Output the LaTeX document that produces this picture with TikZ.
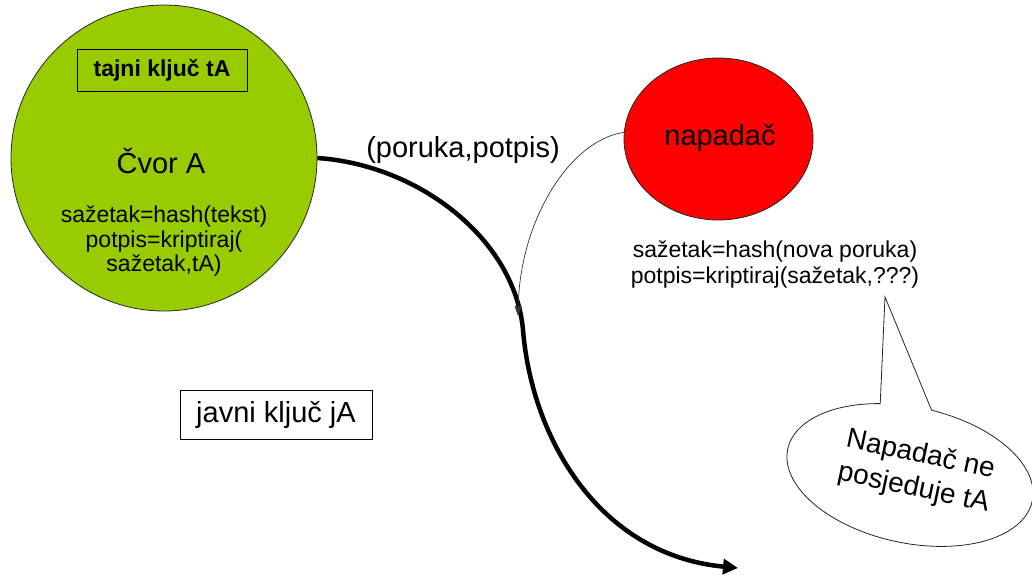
\documentclass[tikz,border=0pt]{standalone}
\usepackage{fontspec}
\setmainfont{Liberation Sans}
\usetikzlibrary{arrows.meta,shapes.geometric}
\definecolor{nodegreen}{HTML}{99CC00}
\definecolor{attackred}{HTML}{FF0000}
\newcommand{\fsbig}{\fontsize{29}{34}\selectfont}
\newcommand{\fsmid}{\fontsize{23}{24.5}\selectfont}
\newcommand{\fsatk}{\fontsize{23}{26}\selectfont}
\newcommand{\fscall}{\fontsize{28}{34}\selectfont}

\begin{document}
\begin{tikzpicture}[x=1pt,y=-1pt,
  outline/.style={draw=black!85, line width=0.8pt},
  keybox/.style={draw=black, line width=0.9pt, inner sep=0pt},
  plain/.style={inner sep=0pt, align=center},
  mainflow/.style={line width=4.5pt, -{Triangle[length=15pt,width=15pt]}},
  sideflow/.style={line width=0.7pt, draw=black!80, -{Triangle[length=10pt,width=7pt]}}]
\useasboundingbox (0,0) rectangle (1032,574);

% sender node A
\node[circle, outline, fill=nodegreen, minimum size=306pt, inner sep=0pt] (A) at (164,158) {};
\node[keybox, minimum width=170pt, minimum height=42pt, font=\fsmid\bfseries] (secret) at (162,70) {tajni ključ tA};
\node[plain, font=\fsbig] (cvor) at (161,161) {Čvor A};
\node[plain, font=\fsmid] (sign) at (164,241) {sažetak=hash(tekst)\\potpis=kriptiraj(\\sažetak,tA)};

% attacker
\node[ellipse, outline, fill=attackred, minimum width=189pt, minimum height=162pt, inner sep=0pt] (N) at (718.5,139) {};
\node[plain, font=\fsbig] (napadac) at (720,138) {napadač};
\node[plain, font=\fsatk] (forge) at (775,265) {sažetak=hash(nova poruka)\\potpis=kriptiraj(sažetak,???)};

% public key
\node[keybox, minimum width=192pt, minimum height=49pt, font=\fsbig] (public) at (276,414.5) {javni ključ jA};

% message label
\node[plain, font=\fsbig] (msg) at (463,150) {(poruka,potpis)};

% message path from A
\coordinate (dest) at (738,568);
\coordinate (join) at (518,316);
\draw[mainflow] (A.east) .. controls (420,165) and (515,240) .. (523,330)
  .. controls (532,440) and (600,555) .. (dest);

% attacker injecting into the path
\draw[sideflow] (N.176) .. controls (570,140) and (520,220) .. (join);

% speech bubble
\begin{scope}[shift={(910,475)}, rotate=-12]
  \draw[fill=white, line width=0.8pt, draw=black!85, line join=miter]
    (-61.5,-169) -- plot[domain=-86.5:249.4, samples=140] ({125*cos(\x)},{68*sin(\x)}) -- cycle;
\end{scope}
\node[plain, font=\fscall, rotate=-12] (bubble) at (917,472) {Napadač ne\\posjeduje tA};
\end{tikzpicture}
\end{document}
